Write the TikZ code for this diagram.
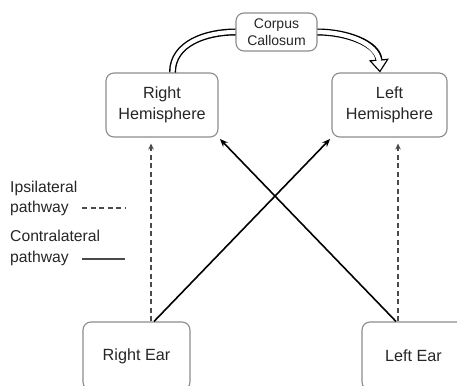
\documentclass[tikz,border=0pt]{standalone}
\usepackage{fontspec}
\setmainfont{Liberation Sans}
\usetikzlibrary{arrows.meta}
\definecolor{boxgray}{HTML}{8C8C8C}
\definecolor{txt}{HTML}{262626}
\definecolor{leg}{HTML}{4A4A4A}
\begin{document}
\begin{tikzpicture}[x=1pt,y=1pt,
  box/.style={draw=boxgray, line width=1.1pt, rounded corners=8pt, fill=white, inner sep=0pt,
    align=center, text=txt, font=\fontsize{16.2}{21}\selectfont},
  legtext/.style={anchor=west, inner sep=0pt, text=txt, font=\fontsize{15.7}{18}\selectfont},
  dashline/.style={line width=1.5pt, draw=leg, dash pattern=on 5pt off 3.5pt},
  dasharrow/.style={dashline, -{Stealth[length=6pt,width=5.5pt]}, shorten >=6pt},
  solidarrow/.style={line width=1.6pt, draw=black, -{Stealth[length=8pt,width=6.5pt]}, shorten >=2pt},
  outer/.style={line width=7pt, draw=black},
  inner/.style={line width=4.2pt, draw=white}
]
\useasboundingbox (0,0) rectangle (457,385);
\clip (0,0) rectangle (457,385);

% nodes
\node[box, minimum width=112pt, minimum height=64pt] (RH) at (162,280) {Right\\Hemisphere};
\node[box, minimum width=115pt, minimum height=64pt] (LH) at (389.5,280) {Left\\Hemisphere};
\node[box, font=\fontsize{14}{17}\selectfont, minimum width=81pt, minimum height=38pt] (CC) at (276.5,353) {Corpus\\Callosum};
\node[box, minimum width=107pt, minimum height=68pt] (RE) at (136.5,29) {Right Ear};
\node[box, minimum width=103pt, minimum height=68pt] (LE) at (413.5,29) {Left Ear};

% legend
\node[legtext] (ipsi) at (10,197) {Ipsilateral};
\node[legtext] (path1) at (10,177) {pathway};
\node[legtext] (contra) at (10,149) {Contralateral};
\node[legtext] (path2) at (10,127) {pathway};
\coordinate (d1) at (82,177);
\coordinate (d2) at (125,177);
\coordinate (s1) at (82,126);
\coordinate (s2) at (125,126);
\draw[dashline] (d1) -- (d2);
\draw[line width=2pt, draw=leg] (s1) -- (s2);

% ipsilateral pathways
\draw[dasharrow] ([xshift=14.5pt]RE.north) -- ([xshift=-11pt]RH.south);
\draw[dasharrow] ([xshift=-15.5pt]LE.north) -- ([xshift=8.5pt]LH.south);

% contralateral pathways
\draw[solidarrow] ([xshift=17.5pt]RE.north) -- (LH.south west);
\draw[solidarrow] ([xshift=-17.5pt]LE.north) -- (RH.south east);

% corpus callosum hollow arrow
\draw[outer] ([xshift=10.5pt]RH.north) to[out=90,in=180] (CC.west);
\draw[inner] ([xshift=10.5pt]RH.north) to[out=90,in=180] (CC.west);
\draw[outer, -{Triangle[length=13pt,width=20pt,line width=0pt]}] (CC.east) to[out=0,in=95] ([xshift=-9.5pt]LH.north);
\draw[inner, -{Triangle[length=9.6pt,width=14.7pt,line width=0pt]}, shorten >=2.1pt] (CC.east) to[out=0,in=95] ([xshift=-9.5pt]LH.north);
\draw[inner, shorten >=10pt] (CC.east) to[out=0,in=95] ([xshift=-9.5pt]LH.north);
\end{tikzpicture}
\end{document}
